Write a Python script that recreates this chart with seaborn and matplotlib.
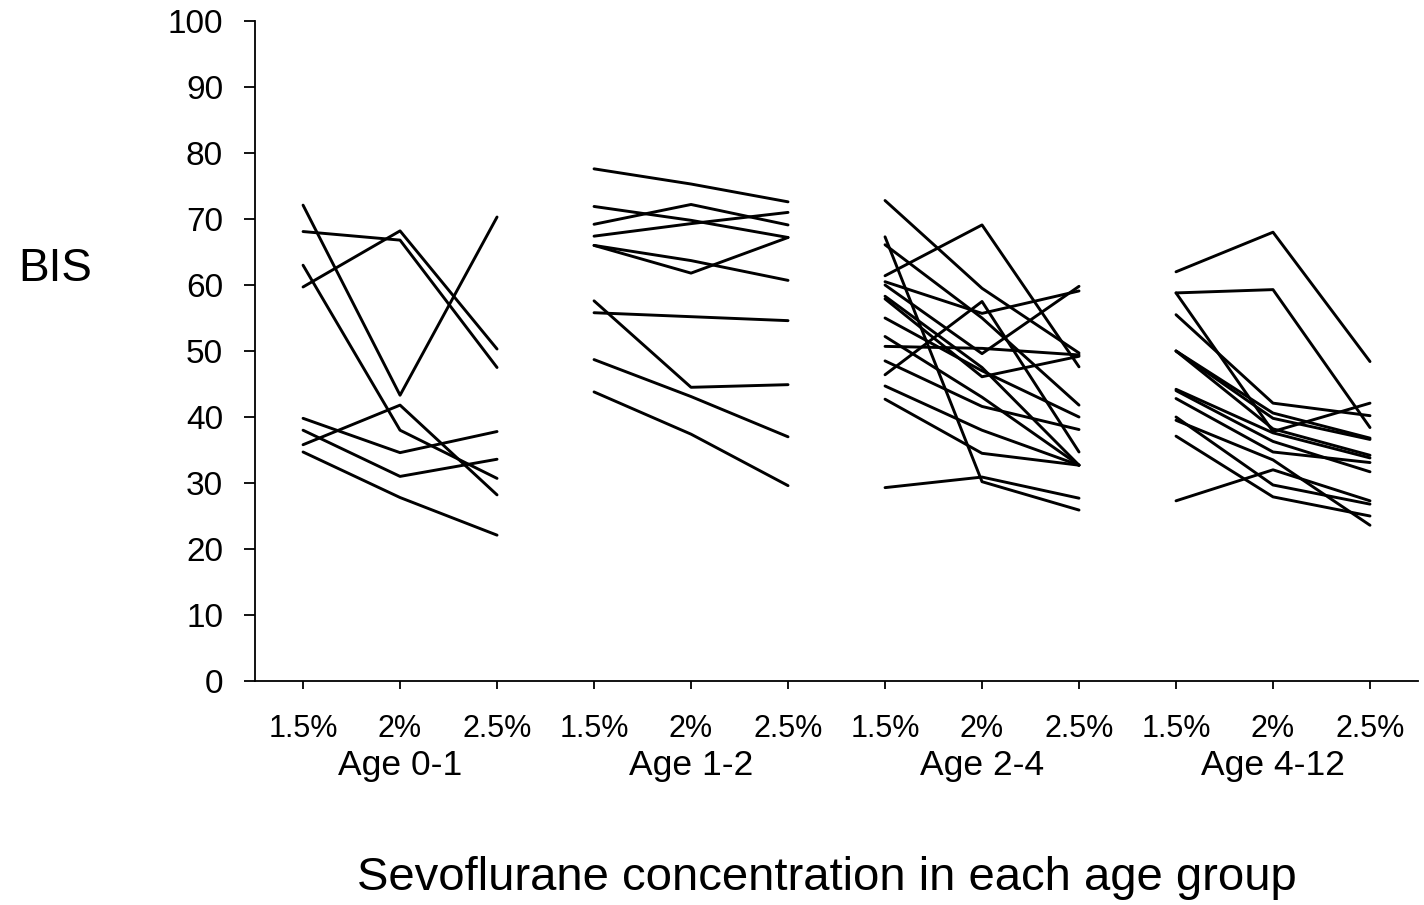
import pandas as pd
import matplotlib
matplotlib.use("Agg")
import matplotlib.pyplot as plt
import seaborn as sns

# BIS values, one entry per child, three concentrations each
concs = ["1.5%", "2%", "2.5%"]
groups = ["Age 0-1", "Age 1-2", "Age 2-4", "Age 4-12"]

g1_15 = [72.1, 63.0, 68.1, 59.7, 35.8, 39.8, 38.0, 34.7]
g1_20 = [43.3, 38.0, 66.8, 68.2, 41.8, 34.6, 31.0, 27.8]
g1_25 = [70.3, 30.7, 47.5, 50.3, 28.2, 37.8, 33.6, 22.1]

g2_15 = [77.6, 71.9, 69.2, 67.4, 66.0, 66.0, 55.8, 57.6, 48.7, 43.8]
g2_20 = [75.3, 69.8, 72.2, 69.3, 61.8, 63.7, 55.2, 44.5, 43.1, 37.4]
g2_25 = [72.6, 67.2, 69.1, 71.0, 67.2, 60.7, 54.6, 44.9, 37.0, 29.6]

g3_15 = [72.8, 67.3, 66.1, 61.4, 60.5, 60.0, 58.3, 57.9, 55.0, 52.2, 50.7, 48.5, 46.4, 44.7, 42.7, 29.3]
g3_20 = [59.5, 30.2, 55.0, 69.1, 55.7, 49.6, 47.5, 46.1, 47.0, 43.0, 50.4, 41.6, 57.5, 38.0, 34.5, 30.9]
g3_25 = [49.7, 25.9, 41.8, 47.6, 59.1, 59.8, 32.7, 49.2, 40.0, 32.7, 49.4, 38.1, 34.7, 32.7, 32.7, 27.7]

g4_15 = [62.0, 58.8, 58.8, 55.5, 50.0, 50.0, 50.0, 44.2, 44.0, 42.8, 40.0, 39.5, 37.1, 27.3]
g4_20 = [68.0, 59.3, 37.8, 42.1, 40.6, 39.8, 38.2, 37.6, 36.3, 34.7, 29.7, 33.5, 27.9, 32.0]
g4_25 = [48.4, 38.4, 42.1, 40.2, 36.8, 36.6, 34.2, 33.8, 31.7, 33.1, 26.8, 23.6, 25.0, 27.3]

data = [(g1_15, g1_20, g1_25), (g2_15, g2_20, g2_25),
        (g3_15, g3_20, g3_25), (g4_15, g4_20, g4_25)]

# long form table: one row per child per concentration
rows = []
for gi, cols in enumerate(data):
    for ci, vals in enumerate(cols):
        for si, v in enumerate(vals):
            rows.append({"subject": f"{gi}-{si}", "group": groups[gi],
                         "pos": gi * 3 + ci, "BIS": v})
df = pd.DataFrame(rows)

sns.set_style("white")
plt.rcParams["font.family"] = ["Liberation Sans", "DejaVu Sans"]
plt.rcParams["text.color"] = "black"
plt.rcParams["axes.labelcolor"] = "black"
plt.rcParams["xtick.color"] = "black"
plt.rcParams["ytick.color"] = "black"

fig = plt.figure(figsize=(14.24, 9.05), dpi=100)
ax = fig.add_axes([0.1791, 0.2475, 0.8167, 0.7293])

sns.lineplot(data=df, x="pos", y="BIS", units="subject", estimator=None,
             color="black", linewidth=2.1, ax=ax)

ax.set_xlim(-0.495, 11.495)
ax.set_ylim(0, 100)
ax.set_yticks(range(0, 101, 10))
ax.set_xticks(range(12))
ax.set_xticklabels(concs * 4)

sns.despine(ax=ax)
for s in ["left", "bottom"]:
    ax.spines[s].set_color("black")
    ax.spines[s].set_linewidth(1.3)

ax.tick_params(axis="y", direction="out", length=8, width=1.3, pad=15,
               labelsize=24, colors="black", left=True)
ax.tick_params(axis="x", direction="out", length=6, width=1.3, pad=18,
               labelsize=22, colors="black", bottom=True)

for gi, g in enumerate(groups):
    ax.text(gi * 3 + 1, -0.128, g, transform=ax.get_xaxis_transform(),
            ha="center", va="center", fontsize=25.5, color="black")

ax.set_xlabel("Sevoflurane concentration in each age group", fontsize=34)
ax.xaxis.set_label_coords(0.492, -0.298)
ax.xaxis.label.set_verticalalignment("center")

ax.set_ylabel("BIS", fontsize=33, rotation=0)
ax.yaxis.set_label_coords(-0.172, 0.624)
ax.yaxis.label.set_verticalalignment("center")
ax.yaxis.label.set_horizontalalignment("center")

fig.savefig("out.png", dpi=100)
